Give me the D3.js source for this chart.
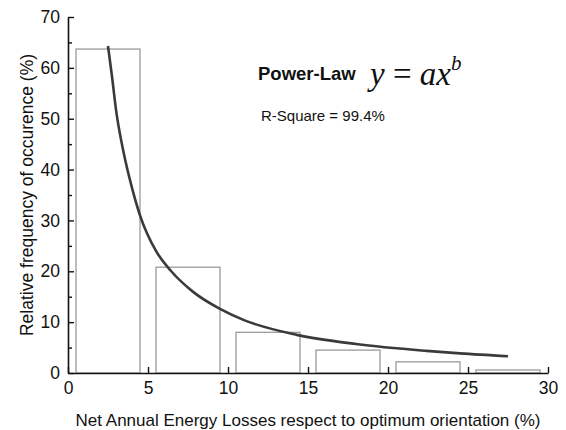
<!DOCTYPE html>
<html>
<head>
<meta charset="utf-8">
<script src="https://cdn.jsdelivr.net/npm/d3@7"></script>
<style>
	body { margin: 0; background: #fff; }
	svg { display: block; font-family: "Liberation Sans", Arial, sans-serif; }
</style>
</head>
<body>
<svg width="566" height="430"></svg>
<script>
// histogram bins (percent of loss), left/right edges of each bar
var binStart = [0.5, 5.5, 10.5, 15.5, 20.5, 25.5];
var binEnd = [4.5, 9.5, 14.5, 19.5, 24.5, 29.5];
var binFreq = [63.7, 20.8, 8.0, 4.5, 2.2, 0.6];

// fitted power-law curve
var fitX = [2.5, 2.75, 3, 3.5, 4, 4.5, 5.5, 6.4, 7.8, 9.5, 11, 14.3, 18, 22.4, 24.5, 27.5];
var fitY = [64.3, 58.3, 51.8, 43.0, 36.4, 31.0, 24.0, 20.2, 16.0, 12.6, 10.4, 7.5, 5.7, 4.35, 3.85, 3.3];

var xTicks = [0, 5, 10, 15, 20, 25, 30];
var yTicks = [0, 10, 20, 30, 40, 50, 60, 70];
var yMinor = [5, 15, 25, 35, 45, 55, 65];

function drawChart() {
	var svg = d3.select("svg"),
		left = 68, right = 548, top = 17, bottom = 373;

	var x = d3.scaleLinear().domain([0, 30]).range([left, right]);
	var y = d3.scaleLinear().domain([0, 70]).range([bottom, top]);

	// bars
	svg.append("g")
		.selectAll("rect")
		.data(binFreq)
		.enter().append("rect")
		.attr("x", function(d, i) { return x(binStart[i]); })
		.attr("y", function(d) { return y(d); })
		.attr("width", function(d, i) { return x(binEnd[i]) - x(binStart[i]); })
		.attr("height", function(d) { return y(0) - y(d); })
		.attr("fill", "#fff")
		.attr("stroke", "#9a9a9a")
		.attr("stroke-width", 1.3);

	// fit line
	var line = d3.line()
		.x(function(d) { return x(d); })
		.y(function(d, i) { return y(fitY[i]); })
		.curve(d3.curveMonotoneX);

	svg.append("path")
		.datum(fitX)
		.attr("fill", "none")
		.attr("stroke", "#3a3a3a")
		.attr("stroke-width", 2.6)
		.attr("d", line);

	// axes
	svg.append("g")
		.attr("transform", "translate(0," + bottom + ")")
		.call(d3.axisBottom(x).tickValues(xTicks).tickSize(-6).tickPadding(9).tickSizeOuter(0));

	svg.append("g")
		.attr("transform", "translate(" + left + ",0)")
		.call(d3.axisLeft(y).tickValues(yTicks).tickSize(-6).tickPadding(8).tickSizeOuter(0));

	svg.append("g")
		.attr("transform", "translate(" + left + ",0)")
		.call(d3.axisLeft(y).tickValues(yMinor).tickSize(-4).tickFormat("").tickSizeOuter(0))
		.select(".domain").remove();

	svg.selectAll(".domain").attr("stroke", "#111").attr("stroke-width", 1.6);
	svg.selectAll(".tick line").attr("stroke", "#111").attr("stroke-width", 1.4);
	svg.selectAll(".tick text")
		.attr("font-family", "Liberation Sans, Arial, sans-serif")
		.attr("font-size", 17.5)
		.attr("fill", "#111");

	// axis titles
	svg.append("text")
		.attr("x", (left + right) / 2)
		.attr("y", 426)
		.attr("text-anchor", "middle")
		.attr("font-size", 17)
		.attr("fill", "#111")
		.text("Net Annual Energy Losses respect to optimum orientation (%)");

	svg.append("text")
		.attr("transform", "translate(33," + (top + bottom) / 2 + ") rotate(-90)")
		.attr("text-anchor", "middle")
		.attr("font-size", 17.5)
		.attr("fill", "#111")
		.text("Relative frequency of occurence (%)");

	// annotation
	svg.append("text")
		.attr("x", 258)
		.attr("y", 80)
		.attr("font-size", 18.5)
		.attr("font-weight", "bold")
		.attr("fill", "#111")
		.text("Power-Law");

	var eq = svg.append("text")
		.attr("x", 370)
		.attr("y", 85)
		.attr("font-family", "Liberation Serif, Times New Roman, serif")
		.attr("font-size", 33)
		.attr("fill", "#111");
	eq.append("tspan").attr("font-style", "italic").text("y");
	eq.append("tspan").text(" = ");
	eq.append("tspan").attr("font-style", "italic").text("ax");
	eq.append("tspan").attr("font-style", "italic").attr("font-size", 21).attr("dy", -15).text("b");

	svg.append("text")
		.attr("x", 261)
		.attr("y", 121)
		.attr("font-size", 15)
		.attr("fill", "#111")
		.text("R-Square = 99.4%");
}

drawChart();
</script>
</body>
</html>
